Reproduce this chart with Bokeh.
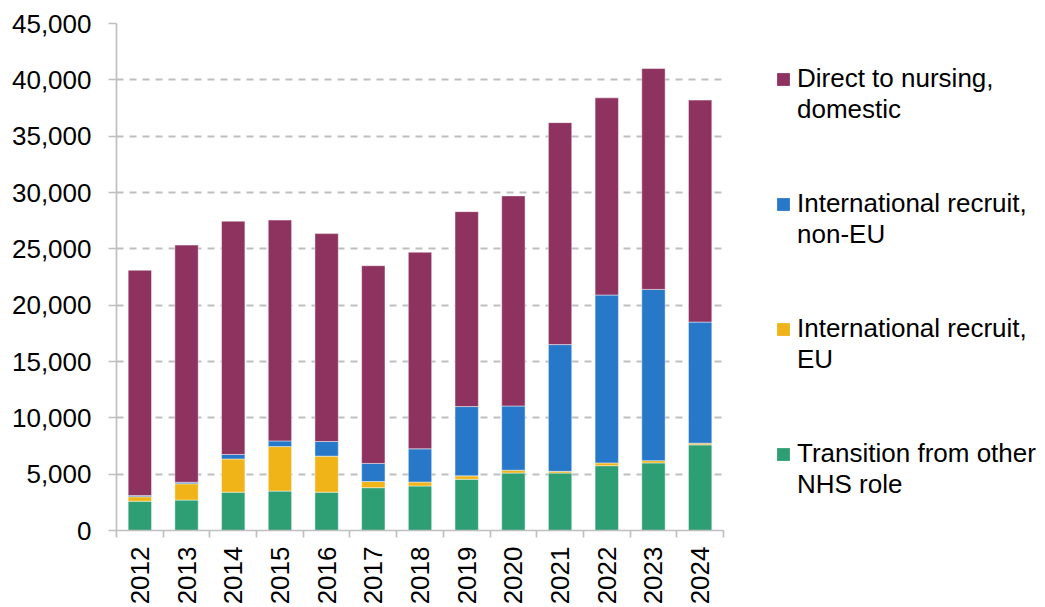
from bokeh.plotting import figure
from bokeh.layouts import row
from bokeh.models import FixedTicker, NumeralTickFormatter, Range1d, Legend, LegendItem, ColumnDataSource
from bokeh.embed import file_html
from bokeh.resources import INLINE
import math

years = [2012, 2013, 2014, 2015, 2016, 2017, 2018, 2019, 2020, 2021, 2022, 2023, 2024]
transition_nhs = [2600, 2700, 3400, 3500, 3400, 3800, 3950, 4550, 5100, 5100, 5750, 6000, 7600]
intl_eu = [400, 1450, 2950, 3950, 3200, 550, 350, 300, 250, 150, 250, 200, 150]
intl_non_eu = [100, 130, 400, 500, 1300, 1600, 2950, 6150, 5700, 11250, 14900, 15200, 10750]
direct_domestic = [20000, 21050, 20700, 19600, 18450, 17550, 17450, 17300, 18650, 19700, 17500, 19600, 19700]

series = ["transition", "eu", "noneu", "domestic"]
labels = ["Transition from other\nNHS role", "International recruit,\nEU",
          "International recruit,\nnon-EU", "Direct to nursing,\ndomestic"]
colors = ["#2E9E74", "#F0B418", "#2778C8", "#8E3260"]

source = ColumnDataSource(dict(x=years, transition=transition_nhs, eu=intl_eu,
                               noneu=intl_non_eu, domestic=direct_domestic))

FONT = "Liberation Sans"
GRID = "#BFBFBF"

p = figure(width=740, height=607, output_backend="svg", toolbar_location=None,
           x_range=Range1d(2011.5, 2024.5), y_range=Range1d(0, 45000),
           min_border_left=116, min_border_top=23, min_border_right=17, min_border_bottom=0)
p.outline_line_color = None
p.background_fill_color = "white"
p.border_fill_color = "white"

renderers = p.vbar_stack(series, x="x", width=0.5, source=source, color=colors,
                         line_color="white", line_alpha=0.45, line_width=1)

# y axis
yticks = list(range(0, 45001, 5000))
p.yaxis.ticker = FixedTicker(ticks=yticks)
p.yaxis.formatter = NumeralTickFormatter(format="0,0")
p.yaxis.axis_line_color = GRID
p.yaxis.axis_line_width = 1.7
p.yaxis.major_tick_line_color = GRID
p.yaxis.major_tick_line_width = 1.7
p.yaxis.major_tick_out = 8
p.yaxis.major_tick_in = 0
p.yaxis.minor_tick_line_color = None
p.yaxis.major_label_text_font = FONT
p.yaxis.major_label_text_font_size = "26px"
p.yaxis.major_label_text_color = "#000000"
p.yaxis.major_label_standoff = 17

# x axis
minor = [y - 0.5 for y in years] + [years[-1] + 0.5]
p.xaxis.ticker = FixedTicker(ticks=years, minor_ticks=minor)
p.xaxis.axis_line_color = GRID
p.xaxis.axis_line_width = 1.7
p.xaxis.major_tick_line_color = None
p.xaxis.major_tick_out = 0
p.xaxis.major_tick_in = 0
p.xaxis.minor_tick_line_color = GRID
p.xaxis.minor_tick_line_width = 1.7
p.xaxis.minor_tick_out = 7
p.xaxis.minor_tick_in = 0
p.xaxis.major_label_orientation = math.pi / 2
p.xaxis.major_label_text_font = FONT
p.xaxis.major_label_text_font_size = "26px"
p.xaxis.major_label_text_color = "#000000"
p.xaxis.major_label_standoff = 9

p.xgrid.grid_line_color = None
p.ygrid.ticker = FixedTicker(ticks=yticks[1:])
p.ygrid.grid_line_color = GRID
p.ygrid.grid_line_width = 1.8
p.ygrid.grid_line_dash = "7 6"

# legend panel (its stacked bars sit outside its visible range; only legend glyphs show)
p2 = figure(width=305, height=607, output_backend="svg", toolbar_location=None,
            x_range=Range1d(0, 1), y_range=Range1d(0, 1),
            min_border_left=26, min_border_top=23, min_border_right=0, min_border_bottom=0)
p2.outline_line_color = None
p2.axis.visible = False
p2.grid.visible = False
p2.background_fill_color = "white"
p2.border_fill_color = "white"

legend_renderers = p2.vbar_stack(series, x="x", width=0.5, source=source, color=colors, line_color=None)
items = [LegendItem(label="\n" + labels[i], renderers=[legend_renderers[i]]) for i in [3, 2, 1, 0]]
legend = Legend(items=items, location="top_left", orientation="vertical")
legend.label_text_font = FONT
legend.label_text_font_size = "26px"
legend.label_text_color = "#000000"
legend.label_text_line_height = 1.15
legend.glyph_width = 16
legend.glyph_height = 16
legend.label_standoff = 6
legend.spacing = 32
legend.padding = 0
legend.margin = 9
legend.border_line_color = None
legend.background_fill_alpha = 0
p2.add_layout(legend, "center")

layout = row(p, p2, spacing=0)
open("out.html", "w").write(file_html(layout, INLINE))
